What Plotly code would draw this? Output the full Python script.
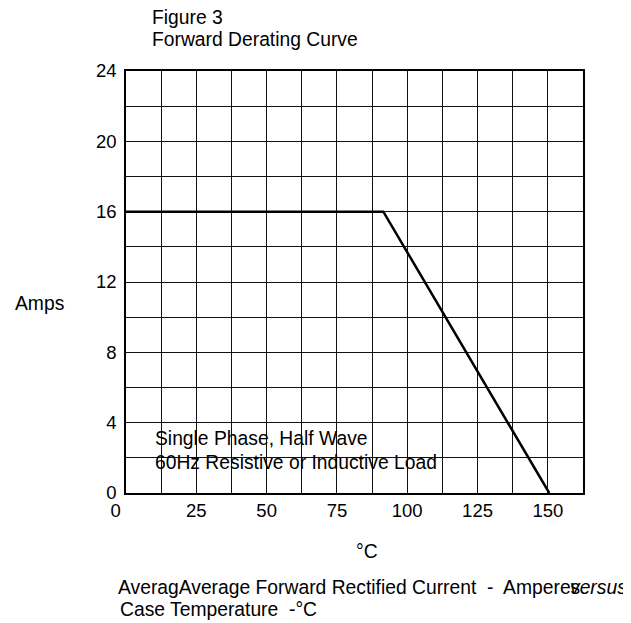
import plotly.graph_objects as go

# Data
temp_c = [0, 91.5, 150.5]
amps = [16, 16, 0]

x_grid = [0, 12.5, 25, 37.5, 50, 62.5, 75, 87.5, 100, 112.5, 125, 137.5, 150, 162.5]
x_labels = ["0\u00a0\u00a0\u00a0\u00a0", "", "25", "", "50", "", "75", "", "100", "", "125", "", "150", ""]
y_grid = [0, 2, 4, 6, 8, 10, 12, 14, 16, 18, 20, 22, 24]
y_labels = ["0", "", "4", "", "8", "", "12", "", "16", "", "20", "", "24"]

title_lines = ["Figure 3", "Forward Derating Curve"]
note_lines = ["Single Phase, Half Wave", "60Hz Resistive or Inductive Load"]

FONT = "Liberation Sans, Arial, sans-serif"
fs_tick = 18.5
fs = 19.3

# page is offset by 8px body margin
PL, PT, PR, PB = 126, 71, 583, 493
PW, PH = PR - PL, PB - PT

def px(xp):
    return (xp - PL) / PW

def py(yp):
    return (PB - yp) / PH

fig = go.Figure()
fig.add_trace(go.Scatter(x=temp_c, y=amps, mode="lines",
                         line=dict(color="black", width=2.5),
                         showlegend=False, hoverinfo="skip"))

fig.update_layout(
    width=623, height=615,
    margin=dict(l=PL - 8, r=631 - PR, t=PT - 8, b=623 - PB),
    paper_bgcolor="white", plot_bgcolor="white",
    font=dict(family=FONT, size=fs, color="black"),
    showlegend=False,
)
fig.update_xaxes(range=[0, 162.5], tickvals=x_grid, ticktext=x_labels,
                 showgrid=True, gridcolor="#111", gridwidth=1.2,
                 zeroline=False, showline=True, linecolor="black", linewidth=1.5,
                 mirror=True, ticks="", ticklabelstandoff=0,
                 tickfont=dict(family=FONT, size=fs_tick, color="black"))
fig.update_yaxes(range=[0, 24], tickvals=y_grid, ticktext=y_labels,
                 showgrid=True, gridcolor="#111", gridwidth=1.2,
                 zeroline=False, showline=True, linecolor="black", linewidth=1.5,
                 mirror=True, ticks="", ticklabelstandoff=4,
                 tickfont=dict(family=FONT, size=fs_tick, color="black"))

def note(text, xp, yp, anchor="left"):
    return dict(text=text, xref="paper", yref="paper", x=px(xp), y=py(yp),
                xanchor=anchor, yanchor="middle", showarrow=False,
                font=dict(family=FONT, size=fs))

ann = [
    note(title_lines[0], 150, 18),
    note(title_lines[1], 150, 40),
    note(note_lines[0], 153, 438),
    note(note_lines[1], 153, 462),
    note("Amps", 13, 303),
    note("°C", 367, 551, "center"),
    note("AveragAverage Forward Rectified Current  -  Amperes", 116, 587),
    note("<i>versus</i>", 629, 587, "right"),
    note("Case Temperature  -°C", 118, 609),
]
fig.update_layout(annotations=ann)

fig.write_html("out.html")
